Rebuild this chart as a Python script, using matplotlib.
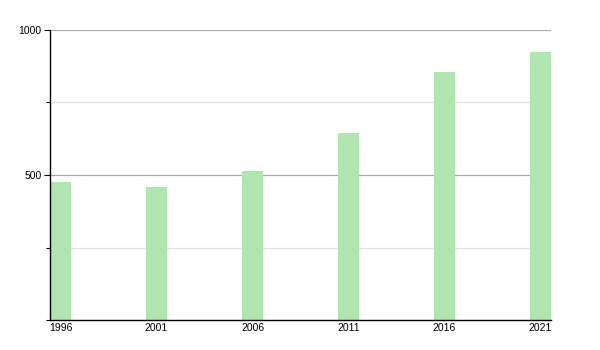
import numpy as np
import matplotlib
matplotlib.use("Agg")
from matplotlib import pyplot as plt
from matplotlib.ticker import MultipleLocator

# datos
years = ['1996', '2001', '2006', '2011', '2016', '2021']
values = [476, 460, 515, 645, 854, 923]

bar_color = '#b0e5b0'
w = 0.219

fig = plt.figure(figsize=(6, 3.5), dpi=100)
ax = fig.add_axes([50/600, 30/350, 501/600, 290/350])

x = np.arange(len(years))
ax.bar(x, values, width=w, color=bar_color, zorder=3)

ax.set_xlim(-w/2, len(years) - 1 + w/2)
ax.set_ylim(0, 1000)

# ejes y rejilla
ax.yaxis.set_major_locator(MultipleLocator(500))
ax.yaxis.set_minor_locator(MultipleLocator(250))
ax.grid(axis='y', which='major', color='#aaaaaa', linewidth=0.9, zorder=0)
ax.grid(axis='y', which='minor', color='#e2e2e2', linewidth=0.9, zorder=0)
ax.set_yticks([500, 1000])
ax.set_yticklabels(['500', '1000'], fontsize=7.5, family='Liberation Sans')
ax.tick_params(axis='y', which='major', length=4, width=0.8, pad=2)
ax.tick_params(axis='y', which='minor', length=3, width=0.8)

ax.set_xticks(x)
ax.set_xticklabels(years, fontsize=7.5, family='Liberation Sans')
ax.tick_params(axis='x', length=0, pad=2)

for s in ['top', 'right']:
    ax.spines[s].set_visible(False)
for s in ['left', 'bottom']:
    ax.spines[s].set_color('black')
    ax.spines[s].set_linewidth(1.0)
    ax.spines[s].set_zorder(4)

fig.savefig('out.png', dpi=100)
